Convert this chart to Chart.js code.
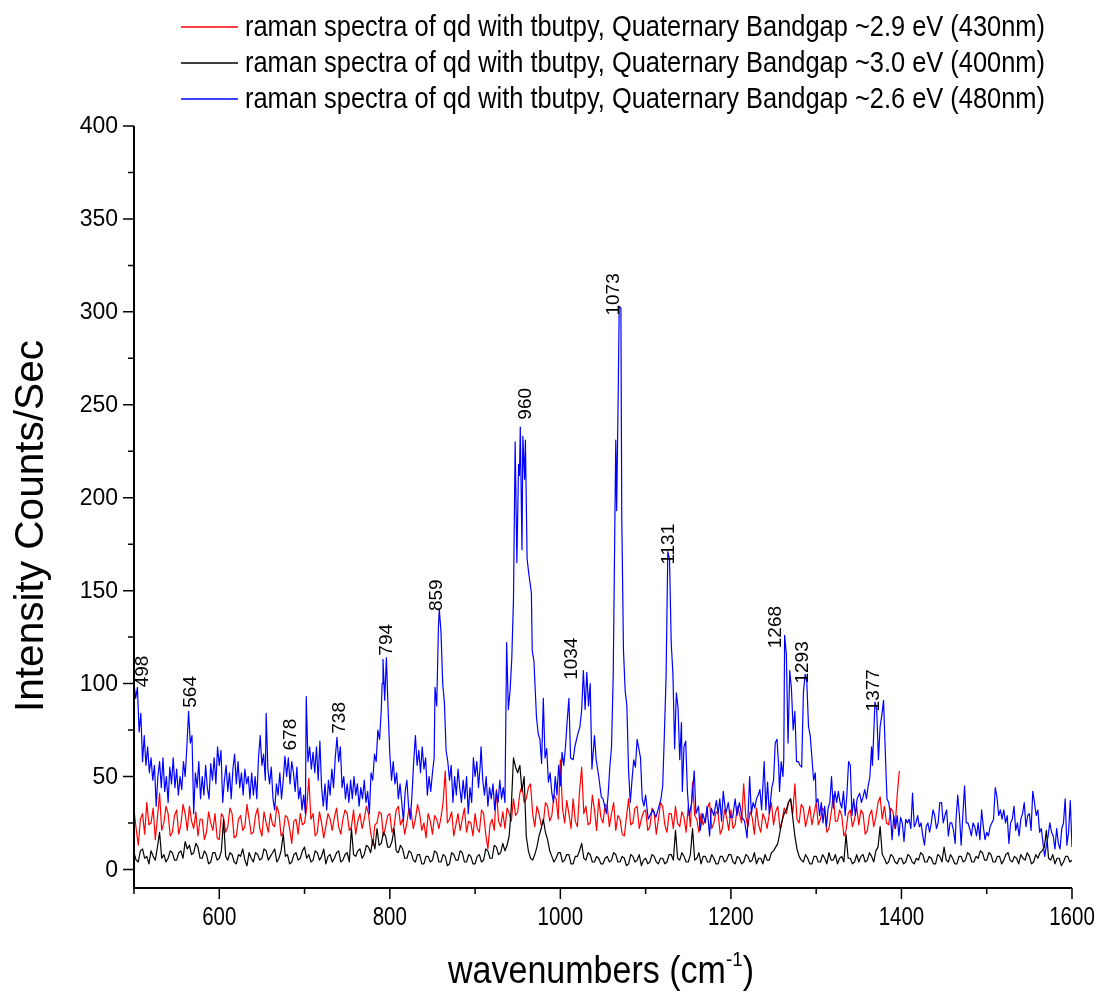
<!DOCTYPE html>
<html>
<head>
<meta charset="utf-8">
<script src="https://cdn.jsdelivr.net/npm/chart.js@4.4.1/dist/chart.umd.min.js"></script>
<style>
    html, body { margin: 0; padding: 0; background: #fff; }
    #wrap { width: 1099px; height: 994px; }
</style>
</head>
<body>
<div id="wrap"><canvas id="ramanChart" width="1099" height="994"></canvas></div>
<script>
// --- DATA ---
const seriesNames = [
    'raman spectra of qd with tbutpy, Quaternary Bandgap ~2.9 eV (430nm)',
    'raman spectra of qd with tbutpy, Quaternary Bandgap ~3.0 eV (400nm)',
    'raman spectra of qd with tbutpy, Quaternary Bandgap ~2.6 eV (480nm)'
];

// 430nm sample (red): regular grid from 500 cm-1, every 2.5 (one row = 50 cm-1)
const redStart = 500, redStep = 2.5;
const redCounts = [
    32, 22, 13, 27, 30, 19, 36, 24, 25, 33, 16, 28, 41, 21, 25, 34, 30, 18, 20, 29,
    32, 19, 24, 35, 30, 21, 34, 26, 22, 31, 18, 27, 27, 16, 20, 31, 25, 21, 30, 17,
    16, 30, 28, 20, 23, 33, 30, 17, 18, 27, 29, 21, 23, 35, 27, 19, 20, 29, 33, 22,
    18, 31, 25, 20, 30, 24, 23, 34, 30, 18, 20, 29, 28, 22, 14, 26, 27, 19, 30, 24,
    25, 33, 49, 27, 30, 18, 20, 31, 25, 17, 23, 30, 27, 21, 28, 33, 23, 19, 27, 32,
    30, 21, 23, 32, 19, 26, 30, 22, 27, 34, 30, 20, 13, 24, 25, 31, 30, 18, 23, 29,
    30, 20, 23, 32, 34, 24, 27, 19, 25, 33, 31, 22, 27, 35, 30, 21, 25, 17, 30, 26,
    19, 29, 27, 22, 28, 36, 53, 25, 27, 31, 18, 24, 30, 21, 27, 33, 20, 26, 25, 18,
    30, 22, 20, 32, 30, 19, 11, 24, 27, 21, 43, 26, 23, 31, 22, 33, 30, 26, 38, 29,
    31, 41, 45, 36, 38, 44, 46, 30, 23, 34, 30, 24, 25, 36, 34, 26, 29, 40, 38, 27,
    59, 33, 25, 37, 30, 22, 38, 26, 23, 42, 55, 30, 34, 24, 25, 40, 32, 21, 38, 28,
    25, 35, 34, 23, 30, 36, 21, 29, 27, 19, 18, 28, 38, 24, 25, 33, 34, 22, 27, 31,
    32, 21, 23, 33, 30, 19, 27, 36, 34, 24, 20, 30, 30, 22, 34, 25, 23, 31, 28, 20,
    34, 23, 47, 29, 27, 20, 30, 24, 27, 33, 36, 22, 25, 31, 30, 19, 22, 32, 28, 21,
    32, 22, 24, 34, 30, 25, 46, 28, 23, 31, 28, 19, 33, 24, 20, 30, 27, 22, 30, 36,
    24, 31, 34, 22, 26, 33, 30, 36, 38, 30, 46, 27, 25, 35, 33, 23, 28, 34, 24, 30,
    36, 24, 27, 33, 31, 20, 22, 30, 40, 26, 26, 32, 29, 18, 21, 30, 32, 23, 27, 34,
    24, 32, 30, 19, 21, 29, 32, 23, 28, 36, 39, 27, 34, 25, 24, 33, 31, 22, 40, 53
];

// 400nm sample (black): regular grid from 500 cm-1, every 2.5 (one row = 50 cm-1)
const blackStart = 500, blackStep = 2.5;
const blackCounts = [
    9, 5, 4, 10, 11, 6, 7, 3, 10, 7, 5, 12, 20, 6, 8, 4, 6, 10, 9, 5,
    5, 9, 10, 6, 15, 11, 13, 8, 9, 14, 12, 6, 6, 10, 8, 3, 4, 9, 9, 5,
    6, 10, 27, 7, 5, 9, 8, 4, 3, 8, 7, 11, 5, 2, 9, 6, 4, 9, 8, 5,
    6, 11, 10, 5, 7, 9, 11, 4, 6, 10, 19, 7, 8, 3, 4, 8, 9, 5, 6, 10,
    12, 6, 8, 4, 5, 10, 9, 5, 7, 11, 3, 7, 8, 4, 6, 9, 10, 4, 5, 8,
    9, 4, 22, 8, 7, 10, 11, 6, 8, 13, 12, 9, 16, 11, 22, 13, 14, 20, 18, 12,
    12, 15, 22, 10, 9, 13, 11, 6, 6, 10, 9, 5, 4, 8, 8, 3, 3, 7, 7, 4,
    5, 10, 9, 4, 4, 8, 7, 2, 3, 9, 8, 5, 5, 10, 9, 4, 4, 8, 7, 3,
    3, 7, 8, 4, 5, 11, 10, 6, 6, 13, 12, 8, 9, 14, 10, 13, 18, 34, 60, 55,
    52, 56, 42, 50, 18, 10, 6, 5, 8, 12, 18, 22, 27, 20, 16, 10, 7, 4, 6, 9,
    9, 4, 5, 8, 8, 3, 3, 7, 7, 10, 14, 6, 5, 9, 8, 4, 4, 7, 6, 3,
    3, 6, 7, 4, 5, 9, 8, 4, 4, 7, 6, 2, 3, 8, 7, 4, 5, 8, 2, 5,
    6, 3, 4, 8, 7, 4, 3, 6, 6, 3, 4, 8, 8, 5, 21, 6, 5, 9, 7, 4,
    4, 8, 22, 5, 6, 9, 3, 7, 7, 4, 4, 8, 6, 3, 3, 7, 7, 4, 5, 8,
    8, 4, 3, 7, 6, 3, 4, 8, 7, 4, 5, 9, 3, 6, 6, 3, 8, 5, 5, 9,
    10, 12, 14, 20, 26, 30, 32, 36, 38, 28, 18, 11, 7, 5, 4, 8, 6, 3, 3, 7,
    7, 4, 4, 8, 6, 3, 9, 5, 5, 8, 3, 6, 7, 4, 19, 6, 6, 3, 4, 8,
    4, 7, 8, 4, 5, 9, 7, 4, 10, 12, 23, 8, 6, 3, 4, 8, 7, 4, 3, 6,
    6, 3, 4, 8, 7, 4, 3, 6, 5, 9, 8, 4, 4, 7, 6, 3, 3, 8, 7, 4,
    12, 5, 4, 8, 6, 3, 3, 7, 7, 4, 5, 9, 8, 4, 4, 7, 6, 10, 9, 5,
    5, 9, 8, 4, 4, 7, 7, 3, 5, 8, 9, 5, 4, 7, 6, 3, 8, 6, 5, 9,
    7, 3, 4, 8, 6, 9, 10, 12, 21, 6, 5, 8, 3, 6, 6, 2, 4, 7, 7, 4,
    5
];

// 480nm sample (blue): [wavenumber, counts]
const blueSpectrum = [
    [500,100],[502,92],[504,98],[506,74],[508,84],[510,58],[512,72],[514,56],[516,66],[518,52],
    [520,60],[522,48],[524,56],[526,34],[528,50],[530,58],[532,44],[534,60],[536,42],[538,50],
    [540,36],[542,55],[544,46],[546,60],[548,44],[550,54],[552,40],[554,50],[556,43],[558,58],
    [560,50],[562,66],[564,85],[566,68],[568,72],[570,30],[572,52],[574,44],[576,58],[578,38],
    [580,50],[582,40],[584,56],[586,44],[588,38],[590,57],[592,48],[594,60],[596,46],[598,66],
    [600,56],[602,64],[604,36],[606,48],[608,56],[610,42],[612,52],[614,38],[616,54],[618,62],
    [620,46],[622,58],[624,44],[626,52],[628,40],[630,54],[632,46],[634,50],[636,38],[638,52],
    [640,40],[642,50],[644,38],[646,60],[648,72],[650,56],[652,62],[654,48],[655,84],[657,54],
    [659,46],[661,55],[663,38],[665,32],[667,46],[669,40],[671,52],[673,38],[675,48],[677,61],
    [679,50],[681,60],[683,46],[685,58],[687,52],[689,42],[691,55],[693,38],[695,44],[697,32],
    [699,40],[701,30],[702,93],[704,58],[706,66],[708,54],[710,63],[712,52],[714,66],[716,48],
    [718,69],[720,44],[722,34],[724,46],[726,32],[728,48],[730,40],[732,54],[734,44],[736,60],
    [738,71],[740,58],[742,66],[744,44],[746,50],[748,38],[750,46],[752,36],[754,48],[756,38],
    [758,50],[760,40],[762,46],[764,34],[766,44],[768,38],[770,48],[772,36],[774,42],[776,30],
    [778,52],[780,48],[782,62],[784,58],[786,75],[788,70],[790,86],[791,100],[792,113],[794,91],
    [796,114],[798,86],[800,62],[802,48],[804,58],[806,46],[808,52],[810,38],[812,46],[814,36],
    [816,26],[818,42],[820,48],[822,34],[824,27],[826,40],[828,58],[830,72],[832,56],[834,64],
    [836,52],[838,66],[840,54],[842,60],[844,40],[846,50],[848,42],[850,52],[852,60],[853,98],
    [855,88],[857,130],[858,140],[860,128],[862,100],[864,90],[866,64],[868,58],[870,48],[872,56],
    [874,36],[876,50],[878,40],[880,54],[882,44],[884,36],[886,48],[888,38],[890,50],[892,30],
    [894,44],[896,36],[898,60],[900,50],[902,58],[904,44],[906,56],[907,66],[909,48],[911,40],
    [913,50],[915,34],[917,44],[919,38],[921,46],[923,32],[925,42],[927,36],[929,48],[931,38],
    [933,44],[935,36],[937,122],[939,86],[941,96],[943,113],[945,145],[947,230],[949,165],[951,218],
    [952,212],[953,238],[955,172],[956,233],[958,210],[959,231],[961,167],[963,159],[966,149],[967,118],
    [969,112],[972,82],[974,73],[976,70],[978,57],[980,92],[982,60],[984,65],[986,47],[988,52],
    [990,41],[992,36],[994,50],[996,40],[998,56],[1000,45],[1002,63],[1004,56],[1006,66],[1008,80],
    [1010,92],[1012,60],[1015,59],[1017,66],[1020,72],[1023,77],[1025,86],[1027,107],[1029,86],[1031,106],
    [1033,88],[1035,100],[1037,54],[1040,72],[1042,59],[1045,50],[1048,39],[1050,38],[1054,30],[1056,40],
    [1058,55],[1060,66],[1062,105],[1064,190],[1065,231],[1066,193],[1068,262],[1069,303],[1071,302],[1072,190],
    [1074,118],[1076,96],[1078,88],[1080,53],[1082,36],[1084,48],[1086,59],[1088,55],[1090,70],[1092,65],
    [1094,60],[1096,38],[1098,34],[1100,40],[1103,27],[1106,30],[1109,32],[1112,28],[1115,33],[1118,38],
    [1120,45],[1122,73],[1124,104],[1126,171],[1128,167],[1130,122],[1132,105],[1134,65],[1136,95],[1138,87],
    [1140,59],[1142,79],[1143,42],[1145,66],[1147,69],[1149,42],[1151,29],[1154,36],[1157,53],[1159,30],
    [1162,34],[1164,21],[1167,30],[1170,25],[1172,34],[1175,18],[1177,33],[1180,29],[1183,37],[1185,30],
    [1187,38],[1189,26],[1191,42],[1194,30],[1197,36],[1199,28],[1202,28],[1205,38],[1207,29],[1210,36],
    [1213,28],[1216,26],[1219,17],[1222,50],[1224,30],[1226,36],[1228,33],[1230,38],[1232,40],[1234,43],
    [1236,32],[1239,58],[1241,32],[1243,47],[1245,30],[1248,44],[1250,48],[1252,68],[1254,70],[1256,56],
    [1257,42],[1259,58],[1261,50],[1262,60],[1263,126],[1265,116],[1267,68],[1269,107],[1271,97],[1273,75],
    [1275,85],[1277,58],[1279,58],[1281,56],[1283,55],[1285,95],[1287,105],[1289,101],[1291,77],[1293,72],
    [1295,60],[1297,48],[1299,52],[1300,36],[1302,38],[1304,29],[1306,36],[1308,25],[1310,34],[1312,23],
    [1314,33],[1316,36],[1318,50],[1320,33],[1322,42],[1324,36],[1326,42],[1328,36],[1330,33],[1332,42],
    [1334,29],[1336,40],[1338,58],[1340,56],[1342,29],[1344,38],[1346,29],[1348,38],[1351,41],[1353,36],
    [1355,39],[1357,43],[1359,38],[1361,45],[1363,50],[1365,66],[1366,56],[1368,79],[1369,90],[1371,86],
    [1373,59],[1375,77],[1377,83],[1379,91],[1381,64],[1383,38],[1385,36],[1387,30],[1389,16],[1391,29],
    [1393,22],[1395,29],[1397,18],[1399,28],[1401,25],[1403,15],[1405,27],[1407,25],[1409,27],[1411,22],
    [1413,41],[1415,23],[1417,25],[1419,29],[1421,23],[1423,25],[1425,18],[1427,13],[1429,23],[1431,25],
    [1433,20],[1435,25],[1437,32],[1439,29],[1441,22],[1443,25],[1445,36],[1447,36],[1449,25],[1451,29],
    [1453,32],[1455,18],[1457,25],[1459,25],[1461,21],[1463,14],[1464,27],[1466,40],[1468,29],[1470,13],
    [1472,29],[1474,45],[1476,25],[1478,25],[1480,22],[1482,18],[1484,25],[1486,23],[1488,18],[1490,25],
    [1492,16],[1494,32],[1496,23],[1498,16],[1500,20],[1502,18],[1504,23],[1506,25],[1508,27],[1510,44],
    [1512,39],[1514,29],[1516,32],[1518,27],[1520,32],[1522,25],[1524,29],[1526,14],[1528,25],[1530,27],
    [1532,34],[1534,21],[1536,25],[1538,18],[1540,27],[1542,30],[1544,36],[1546,23],[1548,29],[1550,30],
    [1552,21],[1554,42],[1556,36],[1558,29],[1560,32],[1562,20],[1564,22],[1566,14],[1568,7],[1570,13],
    [1572,18],[1574,25],[1576,20],[1578,18],[1580,11],[1582,22],[1584,14],[1586,11],[1588,22],[1590,25],
    [1592,38],[1594,13],[1596,20],[1598,37],[1600,12]
];

// peak annotations (text, wavenumber where the label sits, counts at its foot)
const peakNames = ['498', '564', '678', '738', '794', '859', '960', '1034', '1073', '1131', '1268', '1293', '1377'];
const peakAtX   = [510, 566, 684, 741, 796, 855, 960, 1013, 1063, 1127, 1253, 1284, 1367];
const peakAtY   = [98, 87, 64, 73, 115, 139, 242, 102, 298, 164, 119, 100, 85];

// axes
const xMajorTicks = [600, 800, 1000, 1200, 1400, 1600];
const xMinorTicks = [500, 700, 900, 1100, 1300, 1500];
const yMajorTicks = [0, 50, 100, 150, 200, 250, 300, 350, 400];
const yMinorTicks = [25, 75, 125, 175, 225, 275, 325, 375];

// --- FONTS ---
function hasFont(name) {
    const c = document.createElement('canvas').getContext('2d');
    c.font = '40px monospace';
    const a = c.measureText('raman spectra 0123').width;
    c.font = '40px "' + name + '", monospace';
    const b = c.measureText('raman spectra 0123').width;
    return a !== b;
}
const HAS_NARROW = hasFont('Liberation Sans Narrow');
const NARROW = HAS_NARROW ? '"Liberation Sans Narrow"' : '"Liberation Sans", Arial';
const SQUEEZE = HAS_NARROW ? 1 : 0.82;   // fake a narrow face when none is installed
const PLAIN = '"Liberation Sans", Arial, sans-serif';

const toPoints = (start, step, arr) => arr.map((v, i) => ({ x: start + i * step, y: v }));

// draw text squeezed / stretched to an exact width (left aligned at x)
function fitText(ctx, text, x, y, width, size, family) {
    ctx.font = size + 'px ' + family;
    const w = ctx.measureText(text).width;
    ctx.save();
    ctx.translate(x, y);
    ctx.scale(width / w, 1);
    ctx.textAlign = 'left';
    ctx.fillText(text, 0, 0);
    ctx.restore();
}

// --- PLUGIN: axes, tick labels, legend, titles, peak labels ---
const decorations = {
    id: 'decorations',
    afterDraw(chart) {
        const { ctx, chartArea: a } = chart;
        const xs = chart.scales.x, ys = chart.scales.y;
        ctx.save();
        ctx.fillStyle = '#000';
        ctx.strokeStyle = '#000';

        // axis lines
        ctx.lineWidth = 2;
        ctx.beginPath();
        ctx.moveTo(a.left, a.top);
        ctx.lineTo(a.left, a.bottom);
        ctx.lineTo(a.right, a.bottom);
        ctx.stroke();

        // tick marks
        ctx.lineWidth = 1.5;
        ctx.beginPath();
        xMajorTicks.forEach(v => { const p = xs.getPixelForValue(v); ctx.moveTo(p, a.bottom); ctx.lineTo(p, a.bottom + 11); });
        xMinorTicks.forEach(v => { const p = xs.getPixelForValue(v); ctx.moveTo(p, a.bottom); ctx.lineTo(p, a.bottom + 6); });
        yMajorTicks.forEach(v => { const p = ys.getPixelForValue(v); ctx.moveTo(a.left, p); ctx.lineTo(a.left - 11, p); });
        yMinorTicks.forEach(v => { const p = ys.getPixelForValue(v); ctx.moveTo(a.left, p); ctx.lineTo(a.left - 6, p); });
        ctx.stroke();

        // x tick labels
        ctx.textBaseline = 'middle';
        ctx.textAlign = 'left';
        xMajorTicks.forEach(v => {
            const t = String(v);
            ctx.font = '25px ' + NARROW;
            const w = ctx.measureText(t).width * SQUEEZE;
            fitText(ctx, t, xs.getPixelForValue(v) - w / 2, 918, w, 25, NARROW);
        });

        // y tick labels
        ctx.font = '23px ' + PLAIN;
        ctx.textAlign = 'right';
        yMajorTicks.forEach(v => { ctx.fillText(String(v), a.left - 16, ys.getPixelForValue(v) + 1); });
        ctx.textAlign = 'left';

        // legend
        const colors = ['#ff0000', '#000000', '#0000ff'];
        ctx.font = '29px ' + NARROW;
        const scaleW = 800 / ctx.measureText(seriesNames[0]).width;
        seriesNames.forEach((name, i) => {
            const yy = 27 + i * 36;
            ctx.strokeStyle = colors[i];
            ctx.lineWidth = 1.5;
            ctx.beginPath();
            ctx.moveTo(181, yy);
            ctx.lineTo(238, yy);
            ctx.stroke();
            ctx.font = '29px ' + NARROW;
            fitText(ctx, name, 245, yy + 1, ctx.measureText(name).width * scaleW, 29, NARROW);
        });

        // y title
        ctx.textBaseline = 'alphabetic';
        ctx.save();
        ctx.translate(43, 526);
        ctx.rotate(-Math.PI / 2);
        fitText(ctx, 'Intensity Counts/Sec', -186, 0, 372, 41, NARROW);
        ctx.restore();

        // x title with superscript
        const main = 'wavenumbers (cm', sup = '-1', tail = ')';
        ctx.textAlign = 'left';
        ctx.font = '38px ' + NARROW;
        const w1 = ctx.measureText(main).width, w3 = ctx.measureText(tail).width;
        ctx.font = '21px ' + NARROW;
        const w2 = ctx.measureText(sup).width;
        const k = 306 / (w1 + w2 + w3);
        ctx.save();
        ctx.translate(448, 983);
        ctx.scale(k, 1);
        ctx.font = '38px ' + NARROW;
        ctx.fillText(main, 0, 0);
        ctx.font = '21px ' + NARROW;
        ctx.fillText(sup, w1, -17);
        ctx.font = '38px ' + NARROW;
        ctx.fillText(tail, w1 + w2, 0);
        ctx.restore();

        // peak labels
        ctx.font = '19px ' + PLAIN;
        ctx.textAlign = 'left';
        ctx.textBaseline = 'middle';
        peakNames.forEach((t, i) => {
            ctx.save();
            ctx.translate(xs.getPixelForValue(peakAtX[i]), ys.getPixelForValue(peakAtY[i]));
            ctx.rotate(-Math.PI / 2);
            ctx.fillText(t, 0, 0);
            ctx.restore();
        });
        ctx.restore();
    }
};

// --- CHART ---
const canvas = document.getElementById('ramanChart');
if (canvas) {
    new Chart(canvas.getContext('2d'), {
        type: 'line',
        data: {
            datasets: [
                {
                    label: seriesNames[0],
                    data: toPoints(redStart, redStep, redCounts),
                    borderColor: '#ff0000',
                    order: 2
                },
                {
                    label: seriesNames[1],
                    data: toPoints(blackStart, blackStep, blackCounts),
                    borderColor: '#000000',
                    order: 1
                },
                {
                    label: seriesNames[2],
                    data: blueSpectrum.map(p => ({ x: p[0], y: p[1] })),
                    borderColor: '#0000ff',
                    order: 0
                }
            ]
        },
        options: {
            responsive: false,
            devicePixelRatio: 1,
            animation: false,
            parsing: false,
            datasets: {
                line: { borderWidth: 1.2, pointRadius: 0, tension: 0, fill: false, borderJoinStyle: 'round' }
            },
            layout: { padding: { left: 0, top: 126, right: 27, bottom: 0 } },
            scales: {
                x: {
                    type: 'linear',
                    min: 500,
                    max: 1600,
                    grid: { display: false, drawTicks: false },
                    border: { display: false },
                    ticks: { display: false },
                    afterFit: s => { s.height = 106; }
                },
                y: {
                    type: 'linear',
                    min: -10,
                    max: 400,
                    grid: { display: false, drawTicks: false },
                    border: { display: false },
                    ticks: { display: false },
                    afterFit: s => { s.width = 134; }
                }
            },
            plugins: {
                legend: { display: false },
                tooltip: { enabled: false }
            }
        },
        plugins: [decorations]
    });
} else {
    console.warn("Canvas 'ramanChart' not found.");
}
</script>
</body>
</html>
